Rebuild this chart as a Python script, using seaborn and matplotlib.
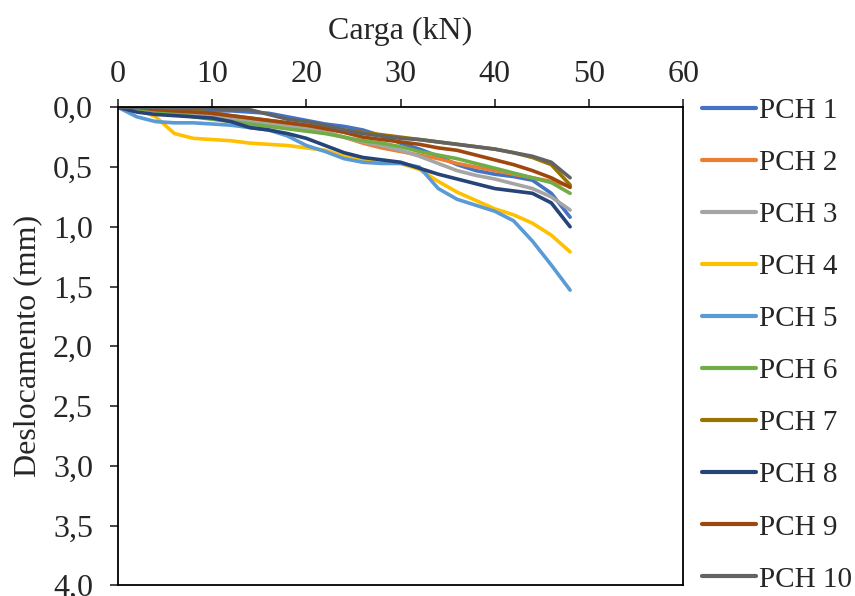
import matplotlib
matplotlib.use("Agg")
import matplotlib.pyplot as plt
import numpy as np
import pandas as pd
import seaborn as sns

# Load steps (kN) shared by all specimens
carga = [0, 2, 4, 6, 8, 10, 12, 14, 16, 18, 20, 22, 24,
         26, 28, 30, 32, 34, 36, 38, 40, 42, 44, 46, 48]

# Displacement readings (mm) for each specimen
pch1 = [0.00, 0.01, 0.02, 0.02, 0.03, 0.03, 0.03, 0.04, 0.05, 0.08, 0.11, 0.14, 0.16,
        0.19, 0.24, 0.30, 0.35, 0.41, 0.48, 0.53, 0.56, 0.58, 0.61, 0.72, 0.92]
pch2 = [0.00, 0.01, 0.03, 0.05, 0.07, 0.08, 0.10, 0.12, 0.14, 0.16, 0.18, 0.21, 0.25,
        0.30, 0.34, 0.37, 0.40, 0.43, 0.47, 0.50, 0.53, 0.56, 0.59, 0.62, 0.66]
pch3 = [0.00, 0.01, 0.02, 0.04, 0.06, 0.08, 0.10, 0.12, 0.14, 0.16, 0.18, 0.21, 0.25,
        0.29, 0.32, 0.36, 0.41, 0.47, 0.53, 0.57, 0.60, 0.64, 0.68, 0.75, 0.86]
pch4 = [0.00, 0.01, 0.08, 0.22, 0.26, 0.27, 0.28, 0.30, 0.31, 0.32, 0.34, 0.36, 0.41,
        0.44, 0.46, 0.47, 0.52, 0.62, 0.71, 0.78, 0.85, 0.90, 0.97, 1.07, 1.21]
pch5 = [0.00, 0.08, 0.12, 0.13, 0.13, 0.14, 0.15, 0.17, 0.19, 0.24, 0.32, 0.37, 0.43,
        0.46, 0.47, 0.47, 0.50, 0.68, 0.77, 0.82, 0.87, 0.95, 1.12, 1.32, 1.53]
pch6 = [0.00, 0.01, 0.03, 0.05, 0.08, 0.10, 0.12, 0.14, 0.16, 0.18, 0.20, 0.22, 0.25,
        0.28, 0.30, 0.33, 0.37, 0.40, 0.43, 0.47, 0.51, 0.55, 0.59, 0.63, 0.72]
pch7 = [0.00, 0.00, 0.01, 0.02, 0.03, 0.05, 0.07, 0.09, 0.11, 0.13, 0.15, 0.17, 0.19,
        0.21, 0.23, 0.25, 0.27, 0.29, 0.31, 0.33, 0.35, 0.38, 0.42, 0.48, 0.65]
pch8 = [0.00, 0.04, 0.06, 0.07, 0.08, 0.09, 0.12, 0.17, 0.19, 0.22, 0.26, 0.32, 0.38,
        0.42, 0.44, 0.46, 0.51, 0.56, 0.60, 0.64, 0.68, 0.70, 0.72, 0.80, 1.00]
pch9 = [0.00, 0.00, 0.02, 0.03, 0.04, 0.05, 0.07, 0.09, 0.11, 0.13, 0.15, 0.18, 0.21,
        0.25, 0.27, 0.29, 0.31, 0.34, 0.36, 0.40, 0.44, 0.48, 0.53, 0.59, 0.67]
pch10 = [0.00, 0.00, 0.00, 0.01, 0.01, 0.01, 0.02, 0.02, 0.06, 0.10, 0.12, 0.15, 0.19,
         0.22, 0.24, 0.26, 0.27, 0.29, 0.31, 0.33, 0.35, 0.38, 0.41, 0.46, 0.59]

nomes = ["PCH 1", "PCH 2", "PCH 3", "PCH 4", "PCH 5",
         "PCH 6", "PCH 7", "PCH 8", "PCH 9", "PCH 10"]
series = [pch1, pch2, pch3, pch4, pch5, pch6, pch7, pch8, pch9, pch10]
cores = ["#4472C4", "#ED7D31", "#A5A5A5", "#FFC000", "#5B9BD5",
         "#70AD47", "#997300", "#264478", "#9E480E", "#636363"]

df = pd.DataFrame({
    "Carga": np.tile(carga, len(nomes)),
    "Deslocamento": np.concatenate(series),
    "Corpo": np.repeat(nomes, len(carga)),
})

sns.set_style("white")
plt.rcParams["font.family"] = ["Liberation Serif", "DejaVu Serif"]
plt.rcParams["font.size"] = 23

fig = plt.figure(figsize=(8.55, 5.96), dpi=100)
ax = fig.add_axes([0.138, 0.018, 0.661, 0.802])

sns.lineplot(data=df, x="Carga", y="Deslocamento", hue="Corpo",
             hue_order=nomes, palette=cores, estimator=None, sort=False,
             linewidth=2.6, ax=ax)
for ln in ax.get_lines():
    ln.set_solid_joinstyle("round")
    ln.set_solid_capstyle("round")

ax.set_xlim(0, 60)
ax.set_ylim(4.0, 0.0)
ax.set_xticks(np.arange(0, 61, 10))
ax.set_yticks(np.arange(0, 4.01, 0.5))
ax.set_yticklabels([f"{v:.1f}".replace(".", ",") for v in np.arange(0, 4.01, 0.5)])

ax.xaxis.tick_top()
ax.xaxis.set_label_position("top")
ax.set_xlabel("Carga (kN)", fontsize=23, labelpad=15)
ax.set_ylabel("Deslocamento (mm)", fontsize=23, labelpad=8)
ax.tick_params(axis="x", which="both", direction="out", length=6, width=1.2,
               labelsize=23, pad=7, top=True, bottom=False)
ax.tick_params(axis="y", which="both", direction="out", length=6, width=1.2,
               labelsize=23, pad=12, left=True)

for s in ax.spines.values():
    s.set_visible(True)
    s.set_color("black")
    s.set_linewidth(1.3)

leg = ax.legend(loc="upper left", bbox_to_anchor=(1.012, 1.045), frameon=False,
                fontsize=21, handlelength=1.85, handletextpad=0.12,
                labelspacing=0.88, borderaxespad=0)
for line in leg.get_lines():
    line.set_linewidth(3)

fig.savefig("out.png", dpi=100)
